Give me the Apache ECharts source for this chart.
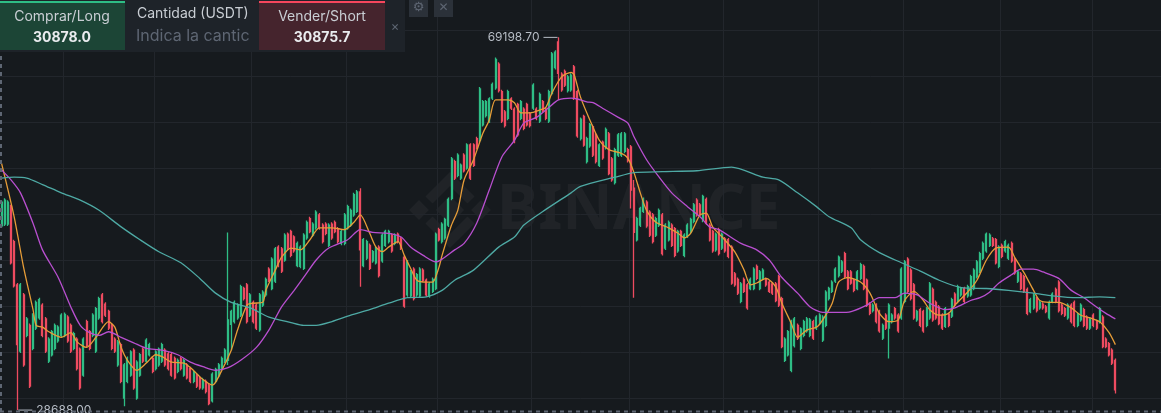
<!DOCTYPE html>
<html>
<head>
<meta charset="utf-8">
<script src="https://cdn.jsdelivr.net/npm/echarts@6/dist/echarts.min.js"></script>
<style>
  html, body { margin: 0; padding: 0; background: #161a1e; }
  #chart { width: 1161px; height: 413px; }
</style>
</head>
<body>
<div id="chart"></div>
<script>
// daily candles, price in thousand USDT: [open, close, low, high]
const ohlc = [
  [48.7,51.3,48.5,51.5],[48.9,51.5,48.7,51.7],[48.9,51.3,48.7,51.5],[50.8,44.7,44.5,51.0],[47.0,42.2,42.0,47.2],
  [42.3,35.8,28.688,42.5],[35.1,42.3,34.9,42.5],[41.2,33.6,33.4,41.4],[36.8,38.6,36.6,38.8],[37.9,31.3,31.1,38.1],
  [35.4,39.0,35.2,39.2],[37.6,40.4,37.4,40.6],[38.7,40.7,38.5,40.9],[40.1,36.8,36.6,40.3],[38.6,35.1,34.9,38.8],
  [34.0,36.4,33.8,36.6],[34.7,37.2,34.5,37.4],[35.4,37.9,35.2,38.1],[36.2,37.7,36.0,37.9],[36.8,39.0,36.6,39.2],
  [36.8,39.1,36.6,39.3],[38.8,36.2,36.0,39.0],[37.9,35.1,34.9,38.1],[35.4,37.0,35.2,37.2],[36.4,33.2,33.0,36.6],
  [35.3,31.1,30.9,35.5],[32.5,36.4,32.3,36.6],[38.3,35.7,35.5,38.5],[37.2,35.4,35.2,37.4],[36.8,39.0,36.6,39.2],
  [35.1,39.7,34.9,39.9],[38.7,40.8,38.5,41.0],[41.2,38.3,38.1,41.4],[40.2,39.0,38.8,40.4],[39.4,37.6,37.4,39.6],
  [37.9,35.4,35.2,38.1],[36.4,35.1,34.9,36.6],[33.6,36.1,33.4,36.3],[35.8,31.8,31.6,36.0],[30.0,33.6,29.1,33.8],
  [31.8,34.3,31.6,34.5],[32.5,35.0,32.3,35.2],[35.2,31.1,30.9,35.4],[30.0,33.9,29.8,34.1],[32.5,34.7,32.3,34.9],
  [35.3,34.0,33.8,35.5],[34.0,36.3,33.8,36.5],[34.7,35.8,34.5,36.0],[34.3,32.9,32.7,34.5],[33.2,35.0,33.0,35.2],
  [33.6,35.3,33.4,35.5],[34.0,35.8,33.8,36.0],[35.2,33.6,33.4,35.4],[34.8,33.2,33.0,35.0],[34.7,32.5,32.3,34.9],
  [34.3,32.2,32.0,34.5],[32.9,34.1,32.7,34.3],[34.3,33.2,33.0,34.5],[32.5,34.1,32.3,34.3],[33.6,32.2,32.0,33.8],
  [33.2,31.8,31.6,33.4],[31.8,32.8,31.6,33.0],[32.5,31.3,31.1,32.7],[32.1,31.1,30.9,32.3],[31.1,32.0,30.9,32.2],
  [31.8,30.7,30.5,32.0],[31.4,29.4,29.2,31.6],[29.7,32.6,29.5,32.8],[31.8,33.1,31.6,33.3],[32.4,33.6,32.2,33.8],
  [33.2,34.3,33.0,34.5],[34.0,35.2,33.8,35.4],[34.1,38.5,33.6,48.0],[38.0,39.4,35.2,39.6],[38.3,40.4,38.1,40.6],
  [38.7,40.1,38.5,40.3],[39.0,42.1,38.8,42.3],[41.9,40.8,40.6,42.1],[42.3,38.3,38.1,42.5],[39.0,41.2,38.8,41.4],
  [40.4,38.3,38.1,40.6],[40.1,37.6,37.4,40.3],[37.4,41.2,37.2,41.4],[40.1,41.5,39.9,41.7],[41.2,42.9,41.0,43.1],
  [44.0,42.8,42.6,44.2],[41.9,45.1,41.7,45.3],[42.7,46.2,42.5,46.4],[46.4,44.4,44.2,46.6],[46.2,43.8,43.6,46.4],
  [45.0,47.7,44.8,47.9],[47.8,46.3,46.1,48.0],[48.1,45.5,45.3,48.3],[47.5,46.0,45.8,47.7],[44.4,46.8,44.2,47.0],
  [44.3,46.4,44.1,46.6],[44.1,47.7,43.9,47.9],[47.4,49.1,47.2,49.3],[49.5,48.1,47.9,49.7],[47.7,48.9,47.5,49.1],
  [48.5,50.2,48.3,50.4],[49.9,48.5,48.3,50.1],[48.8,47.0,46.8,49.0],[48.9,47.9,47.7,49.1],[46.6,48.8,46.4,49.0],
  [48.9,47.4,47.2,49.1],[49.1,48.1,47.9,49.3],[48.4,47.0,46.8,48.6],[46.8,48.1,46.6,48.3],[46.8,49.9,46.6,50.1],
  [48.5,50.8,48.3,51.0],[48.8,50.4,48.6,50.6],[49.9,52.1,49.7,52.3],[50.3,52.4,50.1,52.6],[52.4,46.1,42.1,52.8],
  [44.4,47.2,44.2,47.4],[45.2,47.0,45.0,47.2],[46.6,44.1,43.9,46.8],[44.9,45.9,44.7,46.1],[44.7,46.2,44.5,46.4],
  [46.4,43.3,43.1,46.6],[44.9,47.7,44.7,47.9],[46.6,48.1,46.4,48.3],[47.0,48.1,46.8,48.3],[47.7,46.0,45.8,47.9],
  [46.8,47.7,46.6,47.9],[47.8,47.0,46.8,48.0],[47.3,46.3,46.1,47.5],[45.3,40.0,39.8,45.5],[41.2,44.8,41.0,45.0],
  [41.1,43.7,40.9,43.9],[44.0,40.8,40.6,44.2],[41.2,43.4,41.0,43.6],[41.1,44.0,40.9,44.2],[43.9,42.8,42.6,44.1],
  [42.8,41.2,41.0,43.0],[41.1,42.4,40.9,42.6],[41.6,42.9,41.4,43.1],[41.9,47.8,41.7,48.0],[48.3,47.2,47.0,48.5],
  [47.0,48.9,46.8,49.1],[47.4,49.4,47.2,49.6],[48.8,51.6,48.6,51.8],[51.7,56.0,51.5,56.2],[55.7,53.9,53.7,55.9],
  [54.2,56.4,54.0,56.6],[53.9,55.3,53.7,55.5],[56.4,54.7,54.5,56.6],[55.0,57.5,54.8,57.7],[57.5,53.9,53.7,57.7],
  [57.5,55.3,55.1,57.7],[58.2,57.2,57.0,58.4],[58.0,63.6,57.8,63.8],[59.7,62.2,59.5,62.4],[60.7,62.2,60.5,62.4],
  [60.1,62.5,59.9,62.7],[62.6,64.1,62.4,64.3],[63.7,66.8,63.5,67.0],[66.3,63.4,63.2,66.5],[63.3,60.1,59.9,63.5],
  [61.1,59.6,59.4,61.3],[60.4,63.3,60.2,63.5],[62.5,61.5,61.3,62.7],[61.4,57.9,57.7,61.6],[61.9,58.6,58.4,62.1],
  [60.4,62.2,60.2,62.4],[61.4,59.3,59.1,61.6],[61.9,59.7,59.5,62.1],[60.9,59.6,59.4,61.1],[61.5,64.0,61.3,64.2],
  [61.4,60.4,60.2,61.6],[60.1,63.0,59.9,63.2],[62.2,61.2,61.0,62.4],[61.4,60.4,60.2,61.6],[60.1,63.3,59.9,63.5],
  [63.1,67.4,62.9,67.6],[65.9,67.6,65.7,67.8],[68.7,65.3,62.4,69.1987],[65.2,63.5,63.3,65.4],[65.5,64.0,63.8,65.7],
  [63.4,64.9,63.2,65.1],[63.5,65.1,63.3,65.3],[66.0,62.6,62.4,66.2],[63.3,58.5,58.3,63.5],[58.2,60.3,58.0,60.5],
  [60.6,57.5,57.3,60.8],[55.7,58.2,55.5,58.4],[57.4,59.7,57.2,59.9],[59.5,56.4,56.2,59.7],[58.6,55.7,55.5,58.8],
  [55.3,57.5,55.1,57.7],[57.8,56.1,55.9,58.0],[57.2,59.2,57.0,59.4],[58.7,54.4,54.2,58.9],[56.0,53.7,53.5,56.2],
  [53.4,57.0,53.2,57.2],[56.4,58.6,56.2,58.8],[56.4,58.7,56.2,58.9],[56.8,58.7,56.6,58.9],[57.0,55.8,55.6,57.2],
  [57.3,52.6,50.6,57.5],[52.8,48.0,40.9,53.7],[47.2,49.5,47.0,49.7],[48.8,50.6,48.6,50.8],[50.3,51.6,50.1,51.8],
  [51.3,48.7,48.5,51.5],[50.2,47.7,47.5,50.4],[49.9,47.0,46.8,50.1],[47.7,49.5,47.5,49.7],[48.8,50.4,48.6,50.6],
  [49.9,45.7,45.5,50.1],[46.3,48.8,46.1,49.0],[47.2,49.1,47.0,49.3],[48.8,46.6,46.4,49.0],[48.4,45.5,45.3,48.6],
  [46.0,48.1,45.8,48.3],[48.1,46.6,46.4,48.3],[45.5,47.7,45.3,47.9],[47.6,48.8,47.4,49.0],[48.1,49.4,47.9,49.6],
  [49.2,51.0,49.0,51.2],[51.5,49.9,49.7,51.7],[51.0,49.9,49.7,51.2],[49.3,51.9,49.1,52.1],[51.6,49.0,48.8,51.8],
  [48.8,47.2,47.0,49.0],[48.1,46.0,45.8,48.3],[46.1,47.8,45.9,48.0],[48.3,45.7,45.5,48.5],[46.3,47.8,46.1,48.0],
  [47.3,46.0,45.8,47.5],[47.2,45.4,45.2,47.4],[46.4,42.5,42.3,46.6],[43.5,42.3,42.1,43.7],[42.9,41.4,41.2,43.1],
  [40.5,42.4,40.3,42.6],[42.9,41.6,41.4,43.1],[42.3,39.8,39.6,42.5],[41.9,42.9,41.7,43.1],[41.9,44.0,41.7,44.2],
  [44.3,43.0,42.8,44.5],[41.9,43.7,41.7,43.9],[43.0,43.9,42.8,44.1],[42.9,42.3,42.1,43.1],[42.6,41.6,41.4,42.8],
  [42.4,41.4,41.2,42.6],[42.4,40.6,40.4,42.6],[43.2,40.1,39.9,43.4],[40.8,35.6,35.4,41.0],[34.1,36.4,33.9,36.6],
  [34.7,37.2,34.5,37.4],[33.0,38.3,32.8,38.5],[35.7,38.6,35.5,38.8],[37.9,36.5,36.3,38.1],[35.4,37.5,35.2,37.7],
  [36.8,38.3,36.6,38.5],[37.3,38.6,37.1,38.8],[36.8,38.5,36.6,38.7],[38.3,36.5,36.3,38.5],[37.6,38.8,37.4,39.0],
  [38.1,39.0,37.9,39.2],[36.3,38.8,36.1,39.0],[37.9,41.5,37.7,41.7],[40.8,41.9,40.6,42.1],[41.6,42.6,41.4,42.8],
  [42.7,44.0,42.5,44.2],[43.3,45.3,43.1,45.5],[43.8,44.8,43.6,45.0],[45.7,43.2,43.0,45.9],[43.7,41.9,41.7,43.9],
  [43.7,42.5,42.3,43.9],[42.8,41.7,41.5,43.0],[41.9,43.7,41.7,43.9],[43.0,44.5,42.8,44.7],[44.3,41.9,41.7,44.5],
  [42.8,40.1,39.9,43.0],[40.2,39.2,39.0,40.4],[39.5,40.1,39.3,40.3],[40.1,38.3,38.1,40.3],[39.4,37.3,37.1,39.6],
  [36.5,37.9,36.3,38.1],[39.0,37.6,37.4,39.2],[37.6,40.1,34.3,40.3],[38.3,39.0,38.1,39.2],[39.7,38.7,38.5,39.9],
  [39.0,37.3,37.1,39.2],[38.7,44.0,38.5,44.2],[40.5,44.8,40.3,45.0],[45.1,41.6,41.4,45.3],[43.9,40.8,40.6,44.1],
  [42.3,38.7,38.5,42.5],[38.5,39.4,38.3,39.6],[39.6,37.9,37.7,39.8],[39.4,37.3,37.1,39.6],[37.9,39.7,37.7,39.9],
  [38.7,42.4,38.5,42.6],[41.8,38.5,38.3,42.0],[40.4,38.7,38.5,40.6],[39.9,38.1,37.9,40.1],[39.0,37.6,37.4,39.2],
  [37.8,39.7,37.6,39.9],[39.1,37.9,37.7,39.3],[38.9,40.7,38.7,40.9],[41.3,40.1,39.9,41.5],[40.5,42.1,40.3,42.3],
  [41.2,41.9,41.0,42.1],[41.9,40.5,40.3,42.1],[41.1,42.1,40.9,42.3],[41.2,43.2,41.0,43.4],[41.9,43.9,41.7,44.1],
  [43.2,44.8,43.0,45.0],[43.8,45.7,43.6,45.9],[45.2,46.8,45.0,47.0],[46.0,47.8,45.8,48.0],[46.6,47.7,46.4,47.9],
  [47.3,46.6,46.4,47.5],[47.2,44.7,44.5,47.4],[44.3,46.4,44.1,46.6],[46.6,45.4,45.2,46.8],[46.0,47.0,45.8,47.2],
  [45.2,46.6,45.0,46.8],[46.8,44.9,44.7,47.0],[45.1,43.6,43.4,45.3],[42.7,43.7,42.5,43.9],[43.5,41.9,41.7,43.7],
  [43.2,41.6,41.4,43.4],[41.8,39.2,39.0,42.0],[39.4,40.7,39.2,40.9],[39.8,41.2,39.6,41.4],[40.8,39.5,39.3,41.0],
  [39.8,40.4,39.6,40.6],[40.2,39.8,39.6,40.4],[39.9,39.4,39.2,40.1],[38.7,40.4,38.5,40.6],[40.5,41.3,40.3,41.5],
  [41.8,40.5,40.3,42.0],[42.6,39.5,39.3,42.8],[40.1,39.2,39.0,40.3],[39.7,39.0,38.8,39.9],[38.7,40.1,38.5,40.3],
  [40.1,38.3,38.1,40.3],[40.4,37.9,37.7,40.6],[37.9,39.1,37.7,39.3],[38.5,40.1,38.3,40.3],[39.6,37.9,37.7,39.8],
  [38.8,37.6,37.4,39.0],[37.6,38.6,37.4,38.8],[39.0,37.9,37.7,39.2],[38.3,37.6,37.4,38.5],[38.3,39.7,38.1,39.9],
  [38.8,35.6,35.4,39.0],[36.4,35.6,35.4,36.6],[35.9,34.7,34.5,36.1],[35.2,33.8,33.6,35.4],[34.1,30.876,30.5,34.3]
];

// moving averages: [day index, value]
const ma7 = [
  [0,55.5],[4,49.7],[7,44.2],[10,39.6],[11,37.9],[13,37.7],[15,37.2],[19,36.6],[22,37.1],[24,36.1],[27,35.5],
  [30,36.6],[34,38.3],[36,37.7],[38,35.5],[40,34.1],[43,33.0],[46,33.8],[49,34.7],[51,34.5],[54,33.9],[58,33.8],
  [61,33.0],[64,32.0],[67,31.4],[68,31.7],[70,33.0],[73,35.2],[75,37.4],[78,40.1],[80,40.3],[83,40.4],[84,41.7],
  [87,43.9],[89,45.3],[92,46.3],[95,46.1],[98,47.2],[101,48.5],[105,48.5],[109,48.3],[112,49.1],[114,49.9],
  [117,47.9],[119,46.4],[121,45.9],[123,46.4],[126,47.0],[128,45.5],[130,44.1],[132,42.8],[135,42.6],[137,42.6],
  [139,44.2],[140,45.5],[143,48.8],[145,50.4],[147,53.7],[150,55.9],[153,58.8],[155,60.2],[157,62.4],[161,62.4],
  [163,62.1],[165,61.0],[168,61.0],[171,61.3],[173,61.6],[175,63.2],[178,64.9],[181,65.4],[182,65.1],[184,62.7],
  [187,60.2],[190,58.0],[193,57.0],[197,56.6],[199,56.1],[201,54.5],[203,52.3],[205,50.4],[208,49.1],[212,48.5],
  [215,47.9],[217,47.4],[219,47.9],[222,49.9],[224,50.1],[226,48.6],[229,47.5],[233,45.9],[236,43.9],[238,42.3],
  [240,42.5],[243,43.0],[246,42.1],[248,40.3],[251,38.1],[253,36.6],[256,37.4],[259,37.7],[261,38.5],[264,40.3],
  [266,42.6],[269,43.1],[273,42.6],[276,41.4],[279,39.2],[282,38.3],[285,38.5],[287,40.6],[290,41.6],[293,40.6],
  [295,39.6],[298,39.0],[301,39.2],[303,40.1],[307,41.5],[310,42.8],[313,45.0],[316,46.3],[320,46.4],[322,45.3],
  [325,43.6],[328,41.7],[330,40.6],[333,40.4],[336,40.4],[340,39.8],[343,39.0],[346,38.7],[349,38.3],[352,37.1],
  [354,35.8]
];
const ma25 = [
  [0,54.8],[3,53.7],[6,52.3],[10,49.0],[13,46.1],[18,43.1],[22,39.9],[25,37.9],[28,37.1],[31,36.8],[34,37.2],
  [38,36.6],[42,36.0],[46,35.4],[51,35.2],[56,34.7],[60,33.9],[64,33.4],[68,33.0],[72,33.3],[76,34.1],[81,35.5],
  [85,37.4],[89,39.9],[93,41.7],[96,43.1],[100,45.0],[104,46.3],[110,47.2],[114,48.3],[118,48.0],[123,47.9],
  [127,47.5],[130,46.4],[134,45.5],[138,44.8],[140,45.1],[144,46.1],[147,46.8],[151,49.0],[155,52.6],[159,56.2],
  [163,58.0],[166,59.9],[170,60.5],[174,61.6],[177,62.4],[181,62.6],[183,62.5],[186,62.2],[188,62.1],[191,61.5],
  [196,60.5],[199,59.9],[201,58.4],[205,55.9],[209,54.0],[213,52.3],[218,50.8],[222,49.7],[225,48.6],[228,48.3],
  [235,46.8],[240,46.1],[244,45.0],[248,43.1],[253,41.4],[257,39.9],[261,39.3],[266,39.3],[270,39.4],[275,40.1],
  [279,40.9],[284,40.9],[287,41.4],[291,41.2],[295,40.3],[300,39.6],[303,39.8],[308,40.6],[311,40.9],[314,41.5],
  [317,42.5],[321,43.4],[324,44.0],[328,44.0],[331,43.7],[336,43.0],[340,41.7],[344,40.9],[348,39.9],[351,39.2],
  [354,38.6]
];
const ma99 = [
  [0,53.9],[4,54.0],[8,53.9],[13,53.2],[19,52.3],[25,51.5],[31,50.4],[38,48.6],[44,47.2],[50,45.9],[57,44.7],
  [63,43.0],[68,41.4],[73,40.4],[79,39.8],[85,38.8],[92,38.2],[96,37.9],[100,37.9],[105,38.3],[111,39.0],
  [117,39.6],[123,40.3],[129,40.9],[135,41.0],[140,41.7],[144,42.8],[150,43.9],[158,46.4],[163,47.5],[166,48.8],
  [173,50.5],[181,52.3],[184,53.0],[195,54.0],[201,54.5],[210,54.6],[221,54.7],[232,55.1],[242,54.0],[247,53.7],
  [253,52.3],[259,50.8],[263,49.7],[270,48.5],[273,47.2],[279,45.8],[286,44.7],[292,43.8],[298,42.8],[305,42.0],
  [313,41.9],[320,41.7],[328,41.4],[334,41.1],[342,40.9],[349,41.0],[354,40.9]
];

const monthStarts = [20, 49, 80, 110, 139, 169, 200, 230, 260, 287, 318, 347];
const priceMin = 25, priceMax = 75, priceStep = 5;
const highIdx = 177, highMark = 69198.70;
const lowIdx = 5, lowMark = 28688.00;
const emptyDays = 14;
const days = [];
for (let i = 0; i < ohlc.length + emptyDays; i++) days.push('d' + (i + 1));

const upColor = '#2ebd85';
const downColor = '#ee4b60';
const wm = 'rgba(255,255,255,0.045)';
const font = 'Inter, "Noto Sans", sans-serif';

const chart = echarts.init(document.getElementById('chart'));

function maSeries(name, data, color) {
  return {
    name: name,
    type: 'line',
    data: data,
    smooth: 0.25,
    symbol: 'none',
    silent: true,
    z: 3,
    lineStyle: { color: color, width: 1.3 }
  };
}

chart.setOption({
  backgroundColor: '#161a1e',
  animation: false,
  grid: { left: 0, right: 0, top: -16, height: 460, outerBoundsMode: 'none', containLabel: false },
  xAxis: {
    type: 'category',
    data: days,
    boundaryGap: true,
    axisLine: { show: false },
    axisTick: { show: false },
    axisLabel: { show: false },
    splitLine: {
      show: true,
      interval: function (index) { return monthStarts.indexOf(index) >= 0; },
      lineStyle: { color: '#22262c', width: 1 }
    }
  },
  yAxis: {
    type: 'value',
    min: priceMin,
    max: priceMax,
    interval: priceStep,
    position: 'right',
    axisLine: { show: false },
    axisTick: { show: false },
    axisLabel: { show: false },
    splitLine: { lineStyle: { color: '#22262c', width: 1 } }
  },
  graphic: [
    // watermark
    { type: 'rect', x: 450, y: 210, rotation: Math.PI / 4, shape: { x: -10, y: -10, width: 20, height: 20 }, style: { fill: wm }, z: 0, silent: true },
    { type: 'rect', x: 419, y: 210, rotation: Math.PI / 4, shape: { x: -7, y: -7, width: 14, height: 14 }, style: { fill: wm }, z: 0, silent: true },
    { type: 'rect', x: 481, y: 210, rotation: Math.PI / 4, shape: { x: -7, y: -7, width: 14, height: 14 }, style: { fill: wm }, z: 0, silent: true },
    { type: 'polyline', shape: { points: [[429, 200], [450, 179], [471, 200]] }, style: { stroke: wm, lineWidth: 10, fill: null }, z: 0, silent: true },
    { type: 'polyline', shape: { points: [[429, 220], [450, 241], [471, 220]] }, style: { stroke: wm, lineWidth: 10, fill: null }, z: 0, silent: true },
    { type: 'text', x: 497, y: 211, style: { text: 'BINANCE', font: 'bold 62px "Noto Sans", sans-serif', fill: wm, verticalAlign: 'middle' }, z: 0, silent: true },

    // crosshair dashes
    { type: 'line', shape: { x1: 1, y1: 56, x2: 1, y2: 413 }, style: { stroke: '#5e6673', lineWidth: 2, lineDash: [4, 4] }, z: 50 },
    { type: 'line', shape: { x1: 0, y1: 411.5, x2: 1161, y2: 411.5 }, style: { stroke: '#5e6673', lineWidth: 2, lineDash: [4, 4] }, z: 50 },

    // order panel
    { type: 'rect', shape: { x: 0, y: 0, width: 405, height: 52 }, style: { fill: '#1e2329' }, z: 100 },
    { type: 'rect', shape: { x: 0, y: 1, width: 125, height: 49 }, style: { fill: '#1c4536' }, z: 101 },
    { type: 'rect', shape: { x: 0, y: 1, width: 125, height: 2 }, style: { fill: '#2ebd85' }, z: 102 },
    { type: 'rect', shape: { x: 259, y: 1, width: 126, height: 49 }, style: { fill: '#45242d' }, z: 101 },
    { type: 'rect', shape: { x: 259, y: 1, width: 126, height: 2 }, style: { fill: '#f6465d' }, z: 102 },
    { type: 'text', x: 62, y: 17, style: { text: 'Comprar/Long', font: '14px ' + font, fill: '#c9ced4', align: 'center', verticalAlign: 'middle' }, z: 103 },
    { type: 'text', x: 62, y: 38, style: { text: '30878.0', font: 'bold 14px ' + font, fill: '#eaecef', align: 'center', verticalAlign: 'middle' }, z: 103 },
    { type: 'text', x: 137, y: 14, style: { text: 'Cantidad (USDT)', font: '14px ' + font, fill: '#c9ced4', verticalAlign: 'middle' }, z: 103 },
    { type: 'text', x: 136, y: 36, style: { text: 'Indica la cantic', font: '16px ' + font, fill: '#5e6673', verticalAlign: 'middle' }, z: 103 },
    { type: 'text', x: 322, y: 17, style: { text: 'Vender/Short', font: '14px ' + font, fill: '#c9ced4', align: 'center', verticalAlign: 'middle' }, z: 103 },
    { type: 'text', x: 322, y: 38, style: { text: '30875.7', font: 'bold 14px ' + font, fill: '#eaecef', align: 'center', verticalAlign: 'middle' }, z: 103 },
    { type: 'text', x: 395, y: 27, style: { text: '×', font: '13px ' + font, fill: '#5e6673', align: 'center', verticalAlign: 'middle' }, z: 103 },
    { type: 'rect', shape: { x: 409, y: 0, width: 19, height: 17 }, style: { fill: '#2b3139' }, z: 100 },
    { type: 'rect', shape: { x: 434, y: 0, width: 19, height: 17 }, style: { fill: '#2b3139' }, z: 100 },
    { type: 'text', x: 418.5, y: 8, style: { text: '⚙', font: '13px "DejaVu Sans"', fill: '#5e6673', align: 'center', verticalAlign: 'middle' }, z: 101 },
    { type: 'text', x: 443.5, y: 8, style: { text: '✕', font: '12px "DejaVu Sans"', fill: '#5e6673', align: 'center', verticalAlign: 'middle' }, z: 101 }
  ],
  series: [
    {
      name: 'BTCUSDT',
      type: 'candlestick',
      data: ohlc,
      barWidth: 1.5,
      silent: true,
      z: 2,
      itemStyle: {
        color: upColor,
        color0: downColor,
        borderColor: upColor,
        borderColor0: downColor,
        borderWidth: 1.3
      },
      markPoint: {
        silent: true,
        symbol: 'rect',
        symbolSize: [14, 1],
        itemStyle: { color: '#b7bdc6' },
        label: { show: true, color: '#b7bdc6', fontSize: 12, fontFamily: font },
        data: [
          {
            coord: [highIdx, highMark / 1000],
            symbolOffset: [-8, 0],
            label: { position: 'left', distance: 4, formatter: highMark.toFixed(2) }
          },
          {
            coord: [lowIdx, lowMark / 1000],
            symbolOffset: [8, 0],
            label: { position: 'right', distance: 4, formatter: lowMark.toFixed(2) }
          }
        ]
      }
    },
    maSeries('MA(7)', ma7, '#e79d38'),
    maSeries('MA(25)', ma25, '#b94fd0'),
    maSeries('MA(99)', ma99, '#4ea9a4')
  ]
});
</script>
</body>
</html>
